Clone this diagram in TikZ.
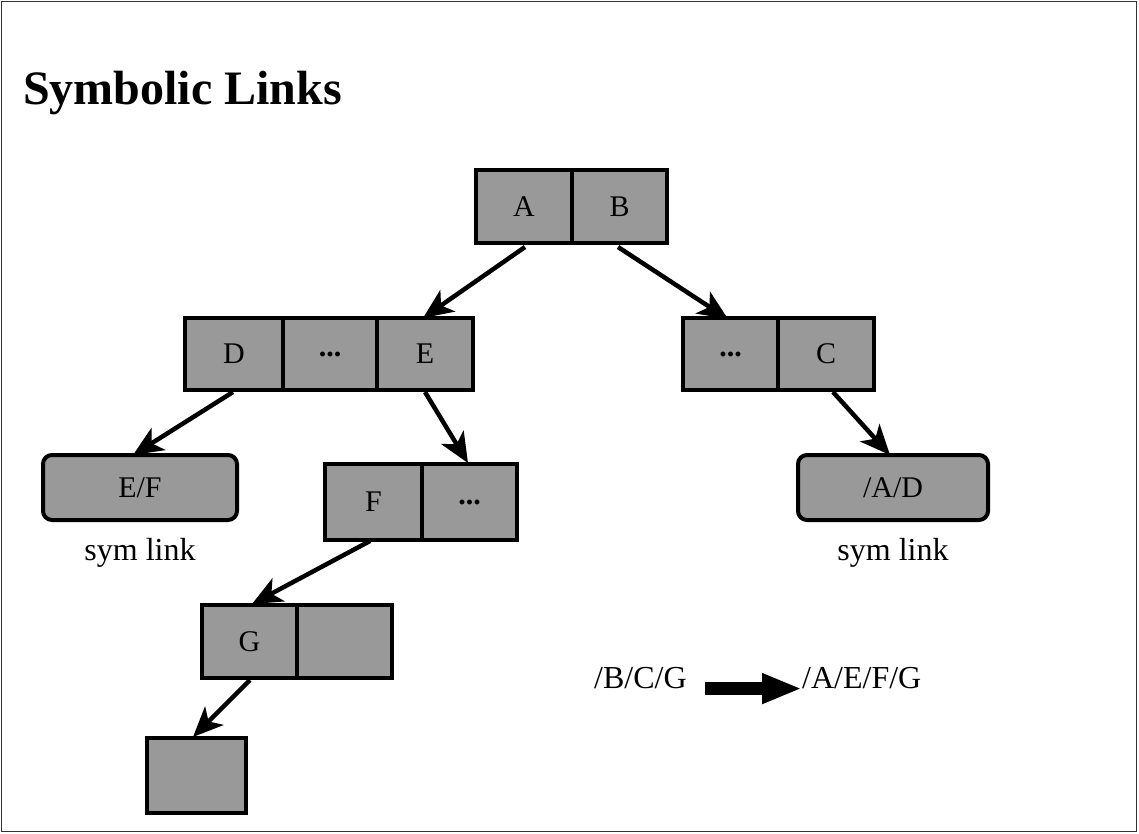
\documentclass[tikz,border=0pt]{standalone}
\usepackage{fontspec}
\setmainfont{Liberation Serif}
\usetikzlibrary{arrows.meta}
\begin{document}
\begin{tikzpicture}[x=1pt,y=-1pt,
  cell/.style={draw=black,line width=3.5pt,fill=black!40,inner sep=0pt,
    font=\fontsize{30}{30}\selectfont,text=black},
  link/.style={draw=black,line width=4pt,rounded corners=9pt,fill=black!40,inner sep=0pt,
    font=\fontsize{30}{30}\selectfont},
  conn/.style={line width=4.5pt,-{Stealth[length=30pt,width=26pt,inset=8pt]}},
  lbl/.style={font=\fontsize{32}{32}\selectfont,inner sep=0pt}]
\useasboundingbox (0,0) rectangle (1139,833);
\draw[line width=1.5pt,black!80] (1.5,1.5) rectangle (1136.5,831.5);
\node[anchor=base west,inner sep=0pt,font=\fontsize{48}{48}\selectfont\bfseries] (title) at (23,104) {Symbolic Links};
% root
\node[cell,minimum width=96pt,minimum height=73pt] (A) at (524,206.5) {A};
\node[cell,minimum width=95pt,minimum height=73pt] (B) at (619.5,206.5) {B};
% D ... E
\node[cell,minimum width=98pt,minimum height=72pt] (D) at (234,354) {D};
\node[cell,minimum width=94pt,minimum height=72pt] (dots1) at (330,354) {\textbf{...}};
\node[cell,minimum width=96pt,minimum height=72pt] (E) at (425,354) {E};
% ... C
\node[cell,minimum width=95pt,minimum height=72pt] (dots2) at (730.5,354) {\textbf{...}};
\node[cell,minimum width=96pt,minimum height=72pt] (C) at (826,354) {C};
% sym links
\node[link,minimum width=194pt,minimum height=65pt] (EF) at (140,487.5) {E/F};
\node[link,minimum width=190pt,minimum height=65pt] (AD) at (893,487.5) {/A/D};
\node[lbl,anchor=base] (sl1) at (140,560) {sym link};
\node[lbl,anchor=base] (sl2) at (893,560) {sym link};
% F ...
\node[cell,minimum width=97pt,minimum height=76pt] (F) at (373.5,502) {F};
\node[cell,minimum width=95pt,minimum height=76pt] (dots3) at (469.5,502) {\textbf{...}};
% G
\node[cell,minimum width=95pt,minimum height=73pt] (G) at (249.5,641.5) {G};
\node[cell,minimum width=95pt,minimum height=73pt] (G2) at (344.5,641.5) {};
% bottom
\node[cell,minimum width=99pt,minimum height=75pt] (H) at (196.5,775.5) {};
% connector coordinates
\coordinate (a1) at (525,247); \coordinate (a2) at (423,318);
\coordinate (b1) at (618,247); \coordinate (b2) at (728,319);
\coordinate (d1) at (233,392); \coordinate (d2) at (133,455);
\coordinate (e1) at (425,392); \coordinate (e2) at (468,463);
\coordinate (c1) at (833,392); \coordinate (c2) at (890,455);
\coordinate (f1) at (370,541); \coordinate (f2) at (252,604);
\coordinate (g1) at (250,680); \coordinate (g2) at (193,737);
\draw[conn] (a1) -- (a2);
\draw[conn] (b1) -- (b2);
\draw[conn] (d1) -- (d2);
\draw[conn] (e1) -- (e2);
\draw[conn] (c1) -- (c2);
\draw[conn] (f1) -- (f2);
\draw[conn] (g1) -- (g2);
% path example
\node[lbl,anchor=base west] (p1) at (594,688) {/B/C/G};
\node[lbl,anchor=base west] (p2) at (802,688) {/A/E/F/G};
\draw[line width=13pt,-{Triangle[length=40pt,width=28pt]}] (p1.east)++(18pt,-11pt) coordinate (q1) -- (p2.west|-q1);
\end{tikzpicture}
\end{document}
